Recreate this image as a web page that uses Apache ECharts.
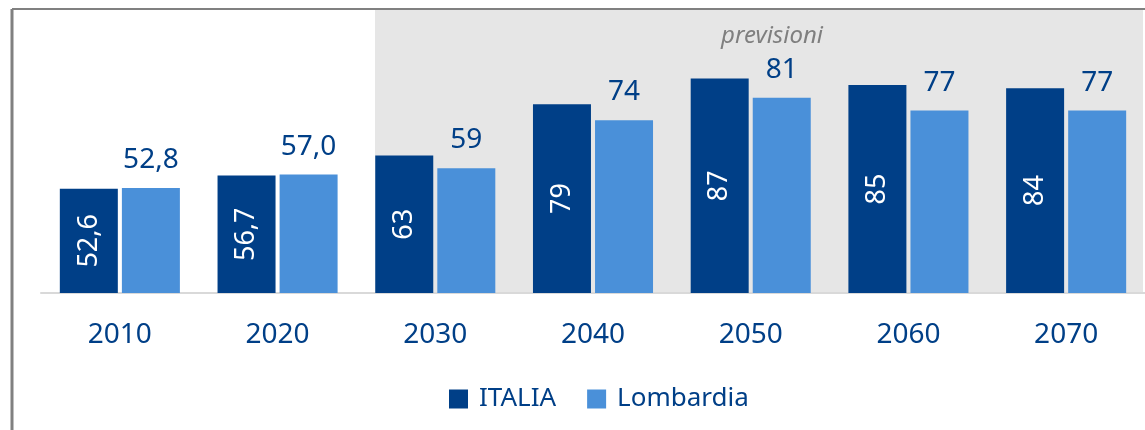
<!DOCTYPE html>
<html>
<head>
<meta charset="utf-8">
<style>
  html, body { margin: 0; padding: 0; background: #fff; }
  #chart { width: 1145px; height: 430px; }
</style>
<script src="https://cdn.jsdelivr.net/npm/echarts@6/dist/echarts.min.js"></script>
</head>
<body>
<div id="chart"></div>
<script>
// dati
const anni = ['2010', '2020', '2030', '2040', '2050', '2060', '2070'];
const italia = [52.6, 56.7, 63, 79, 87, 85, 84];
const lombardia = [52.8, 57.0, 59, 74, 81, 77, 77];

const blu = '#003f87';
const azzurro = '#4a90d9';
const font = 'Noto Sans';

// 2010 e 2020 con un decimale, previsioni intere
function etichetta(p) {
    return p.dataIndex < 2 ? p.value.toFixed(1).replace('.', ',') : String(p.value);
}

let chart = echarts.init(document.getElementById('chart'));

let option = {
    animation: false,
    textStyle: { fontFamily: font },
    grid: { left: 41, right: 0, top: 37, bottom: 137 },
    graphic: [
        // zona previsioni
        { type: 'rect', z: -10, shape: { x: 375, y: 10, width: 768, height: 283 }, style: { fill: '#e6e6e6' } },
        { type: 'text', left: 721, top: 24, style: { text: 'previsioni', font: 'italic 24px "Noto Sans"', fill: '#7f7f7f' } },
        // cornice
        { type: 'line', shape: { x1: 12, y1: 9, x2: 1145, y2: 9 }, style: { stroke: '#808080', lineWidth: 2 } },
        { type: 'line', shape: { x1: 12, y1: 9, x2: 12, y2: 430 }, style: { stroke: '#808080', lineWidth: 3 } }
    ],
    legend: {
        bottom: 13,
        left: 444,
        itemWidth: 19,
        itemHeight: 19,
        itemGap: 31,
        icon: 'rect',
        textStyle: { color: blu, fontSize: 26, fontFamily: font, padding: [0, 0, 0, 6] },
        data: ['ITALIA', 'Lombardia']
    },
    xAxis: {
        type: 'category',
        data: anni,
        axisLine: { lineStyle: { color: '#d9d9d9', width: 2 } },
        axisTick: { show: false },
        axisLabel: { color: blu, fontSize: 28, margin: 28 }
    },
    yAxis: {
        type: 'value',
        min: 20,
        max: 100,
        show: false
    },
    series: [
        {
            name: 'ITALIA',
            type: 'bar',
            data: italia,
            barWidth: 58,
            barGap: '7%',
            itemStyle: { color: blu },
            label: {
                show: true,
                position: 'inside',
                rotate: 90,
                color: '#fff',
                fontSize: 27,
                formatter: etichetta
            }
        },
        {
            name: 'Lombardia',
            type: 'bar',
            data: lombardia,
            barWidth: 58,
            itemStyle: { color: azzurro },
            label: {
                show: true,
                position: 'top',
                distance: 14,
                color: blu,
                fontSize: 28,
                formatter: etichetta
            }
        }
    ]
};

chart.setOption(option);
</script>
</body>
</html>
